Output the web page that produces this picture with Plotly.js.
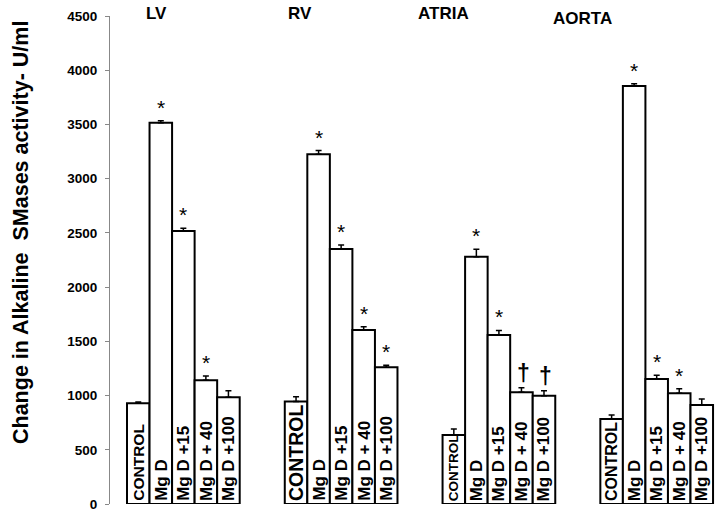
<!DOCTYPE html>
<html>
<head>
<meta charset="utf-8">
<script src="https://cdn.plot.ly/plotly-3.0.1.min.js"></script>
<style>html,body{margin:0;padding:0;background:#fff;}#chart{width:718px;height:514px;}</style>
</head>
<body>
<div id="chart"></div>
<script>
// ---- data ----
var groups = ["LV", "RV", "ATRIA", "AORTA"];
var categories = ["CONTROL", "Mg D", "Mg D +15", "Mg D + 40", "Mg D +100"];
var lv = [929, 3515, 2517, 1140, 985];
var lvErr = [12, 20, 25, 40, 60];
var rv = [945, 3225, 2352, 1605, 1260];
var rvErr = [45, 34, 37, 30, 20];
var atria = [636, 2281, 1558, 1030, 999];
var atriaErr = [55, 68, 43, 43, 46];
var aorta = [784, 3855, 1153, 1021, 913];
var aortaErr = [37, 21, 34, 42, 55];
var lvMarks = ["", "*", "*", "*", ""];
var rvMarks = ["", "*", "*", "*", "*"];
var atriaMarks = ["", "*", "*", "\u2020", "\u2020"];
var aortaMarks = ["", "*", "*", "*", ""];
var yTicks = [0, 500, 1000, 1500, 2000, 2500, 3000, 3500, 4000, 4500];

// ---- styling / layout helpers ----
var series = [lv, rv, atria, aorta];
var errs = [lvErr, rvErr, atriaErr, aortaErr];
var marks = [lvMarks, rvMarks, atriaMarks, aortaMarks];
var groupStep = 7;
var titleOffset = [0.83, 0.18, -0.48, -1.31];
var titleYShift = [0, 0, 0, -5];
var controlSize = [15.5, 19.5, 13.5, 16];
var FONT = 'Liberation Sans, Arial, sans-serif';

var xs = [], ys = [], es = [], ems = [];
var annotations = [];
for (var g = 0; g < groups.length; g++) {
  for (var i = 0; i < categories.length; i++) {
    var x = g * groupStep + i;
    xs.push(x); ys.push(series[g][i]); es.push(errs[g][i]); ems.push(0);
    annotations.push({
      x: x, y: 0, xref: 'x', yref: 'y', text: categories[i], showarrow: false,
      textangle: -90, yanchor: 'bottom', xanchor: 'center', yshift: 1,
      font: {family: FONT, size: i === 0 ? controlSize[g] : 17, color: '#000', weight: 'bold'}
    });
    if (marks[g][i]) {
      var isDag = marks[g][i] !== '*';
      annotations.push({
        x: x, y: series[g][i] + errs[g][i], xref: 'x', yref: 'y', text: marks[g][i], showarrow: false,
        yanchor: 'bottom', xanchor: 'center', yshift: isDag ? 0 : 0, xshift: isDag ? 2 : 0,
        font: {family: FONT, size: isDag ? 23 : 21, color: '#000', weight: isDag ? 'bold' : 'normal'}
      });
    }
  }
  annotations.push({
    x: g * groupStep + titleOffset[g], y: 1, xref: 'x', yref: 'paper', text: groups[g], showarrow: false,
    yanchor: 'middle', xanchor: 'center', yshift: 3 + titleYShift[g],
    font: {family: FONT, size: 17, color: '#000', weight: 'bold'}
  });
}
annotations.push({
  x: 0, y: 0.5, xref: 'paper', yref: 'paper', xanchor: 'center', yanchor: 'middle',
  xshift: -89, yshift: 27, textangle: -90, showarrow: false,
  text: 'Change in Alkaline  SMases activity- U/ml',
  font: {family: FONT, size: 21.5, color: '#000', weight: 'bold'}
});

var trace = {
  type: 'bar', x: xs, y: ys, width: 1,
  marker: {color: '#ffffff', line: {color: '#000000', width: 2}},
  error_y: {type: 'data', symmetric: false, array: es, arrayminus: ems, visible: true,
            color: '#000', thickness: 1.5, width: 3},
  hoverinfo: 'x+y'
};

var layout = {
  width: 718, height: 514,
  margin: {l: 110, r: 0, t: 16, b: 10},
  paper_bgcolor: '#fff', plot_bgcolor: '#fff',
  showlegend: false,
  xaxis: {range: [-1.254, 25.72], showline: false, showgrid: false, zeroline: false,
          showticklabels: false, ticks: ''},
  yaxis: {range: [0, 4500], tickvals: yTicks, ticktext: yTicks.map(String),
          showline: true, linecolor: '#888', linewidth: 1, ticks: 'outside', ticklen: 4,
          tickcolor: '#888', showgrid: false, zeroline: false, ticklabelstandoff: 5,
          tickfont: {family: FONT, size: 13.5, color: '#000', weight: 'bold'}},
  annotations: annotations
};
Plotly.newPlot('chart', [trace], layout, {displayModeBar: false, staticPlot: true});
</script>
</body>
</html>
